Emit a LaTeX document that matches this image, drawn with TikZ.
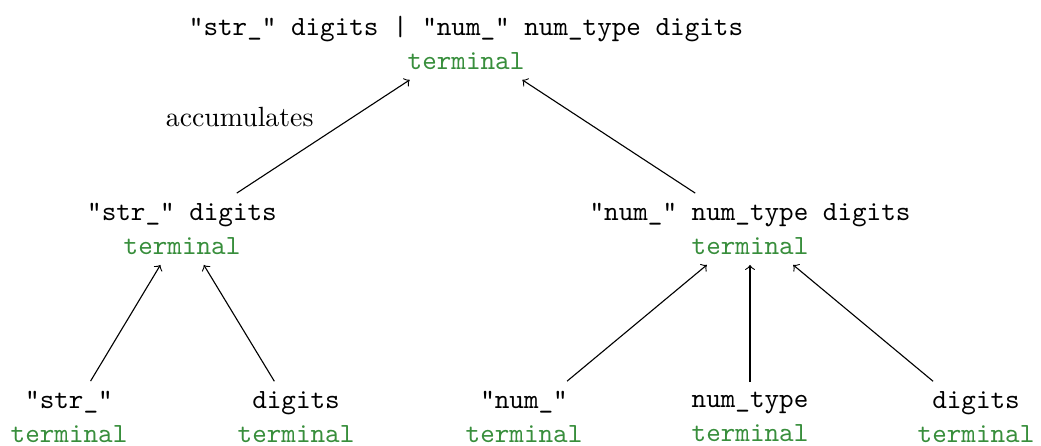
\documentclass[tikz,border=0pt]{standalone}
\usepackage{xcolor}
\definecolor{termgreen}{RGB}{56,142,60}
\begin{document}
\begin{tikzpicture}[x=0.36pt,y=-0.36pt,
  gnode/.style={align=center, font=\ttfamily, inner sep=3.33pt},
  conn/.style={->, line width=0.4pt}]
\useasboundingbox (0,0) rectangle (1041,446);
\newcommand{\term}{\\[0.5pt]\textcolor{termgreen}{terminal}}

% root
\node[gnode] (root) at (466,43) {"str\_" digits | "num\_" num\_type digits\term};

% second level
\node[gnode] (str) at (182,229) {"str\_" digits\term};
\node[gnode] (num) at (750,229) {"num\_" num\_type digits\term};

% leaves
\node[gnode] (strlit) at (69,417) {"str\_"\term};
\node[gnode] (sdig) at (296,417) {digits\term};
\node[gnode] (numlit) at (524,417) {"num\_"\term};
\node[gnode] (ntype) at (750,417) {num\_type\term};
\node[gnode] (ndig) at (976,417) {digits\term};

% connectors
\draw[conn] (str) -- node[above left, font=\rmfamily] (acc) {accumulates} (root);
\draw[conn] (num) -- (root);
\draw[conn] (strlit) -- (str);
\draw[conn] (sdig) -- (str);
\draw[conn] (numlit) -- (num);
\draw[conn] (ntype) -- (num);
\draw[conn] (ndig) -- (num);
\end{tikzpicture}
\end{document}
